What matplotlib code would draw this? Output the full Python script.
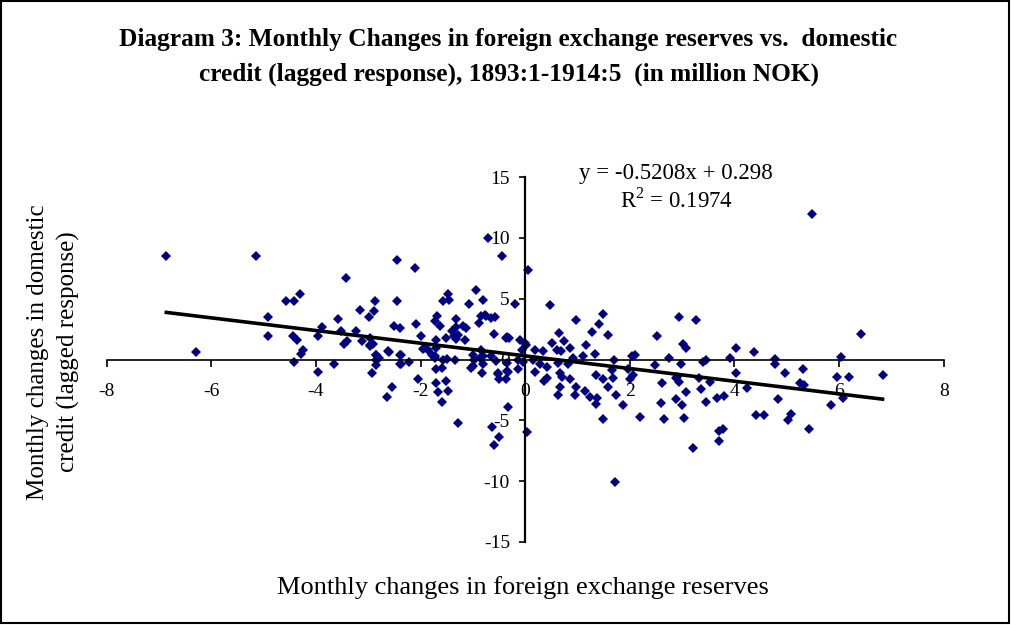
import numpy as np
import matplotlib
matplotlib.use("Agg")
import matplotlib.pyplot as plt
from matplotlib.patches import Rectangle

# monthly changes in foreign exchange reserves (x) vs. lagged change in domestic credit (y)
reserves = [
    -6.86, -5.14, -6.29, -4.92, -4.92, -4.58, -4.41, -4.31, -4.43, -4.36, -4.24, -4.28, -4.42,
    -3.96, -3.96, -3.66, -3.88, -3.57, -3.53, -3.42, -3.47, -3.41, -3.23, -3.16, -3.12, -2.99,
    -2.88, -2.89, -2.97, -2.90, -2.85, -2.80, -2.86, -2.92, -2.61, -2.46, -2.46, -2.51, -2.39,
    -2.40, -2.39, -2.23, -2.11, -2.08, -2.00, -1.94, -1.86, -1.73, -1.68, -1.63, -1.71, -1.70,
    -1.73, -1.58, -1.48, -1.46, -1.51, -1.58, -1.70, -1.60, -1.33, -1.33, -1.37, -1.35, -1.18,
    -1.14, -1.08, -0.95, -0.89, -0.84, -0.77, -0.81, -0.72, -0.58, -0.60, -0.44, -0.34, -0.20,
    -0.10, 0.05, -1.00, -0.81, -0.65, -1.00, -0.82, -0.52, -0.33, -0.14, -0.04, -0.07, 0.00,
    -2.05, -2.54, -2.65, -1.70, -1.51, -1.67, -1.48, -1.59, -1.28, -0.63, -0.51, -0.60, -0.33,
    0.04, -0.50, -0.37, -0.35, -0.52, -1.03, -1.50, -1.39, -1.28, -1.33, -1.16, -0.74, -0.65,
    -0.84, -0.97, -0.87, -0.81, -0.55, -0.37, -0.31, -0.35, -0.14, -2.97, -2.97, -2.85, -2.85,
    -2.62, -2.37, -2.37, -1.78, -1.95, -1.72,
    0.48, 0.98, 1.48, 1.41, 1.28, 1.58, 0.64, 0.51, 0.74, 0.86, 0.61, 0.69, 0.18, 0.34, 0.02,
    1.17, 1.10, 1.34, 0.91, 1.70, 2.05, 2.09, 2.51, 2.75, 2.94, 0.15, 0.28, 0.41, 0.18, 0.63,
    0.82, 0.66, 0.70, 0.41, 0.35, 0.86, 0.66, 0.63, 0.98, 0.95, 1.14, 1.23, 1.37, 1.36, 1.35,
    1.49, 1.58, 1.68, 1.65, 1.74, 1.86, 1.97, 2.06, 2.00, 1.48, 2.20, 2.48, 2.62, 2.59, 2.65,
    2.88, 2.89, 3.27, 3.02, 3.08, 2.97, 3.39, 3.46, 3.91, 4.02, 4.02, 5.49, 6.41, 4.37, 4.77,
    4.77, 6.03, 4.96, 5.30, 5.95, 6.19, 6.83, 4.23, 5.26, 5.33, 4.83, 6.08, 5.84, 4.42, 4.57,
    5.08, 5.03, 5.42, 1.71, 3.20, 3.70, 3.71, 3.78, 3.04, 3.00, 3.08, 3.36, 3.46, 3.66, 3.80,
    3.54, 3.32, 2.90, 2.94,
]
credit = [
    8.52, 8.52, 0.63, 3.47, 1.97, 4.78, 4.78, 5.41, 1.97, 1.64, 0.82, 0.47, -0.19,
    1.97, -1.00, -0.33, 2.65, 3.33, 2.32, 6.70, 1.31, 1.50, 2.32, 4.10, 1.50, 3.47,
    4.78, 4.02, 1.09, 1.31, 0.33, 0.14, -0.47, -1.09, 0.63, 8.20, 4.78, 2.79, 2.60,
    0.35, -0.41, -0.19, 7.51, 2.95, 1.91, 0.96, 0.82, 3.14, 3.61, 2.79, 1.64, 0.96,
    0.27, 4.78, 5.41, 4.92, 1.78, 0.00, -0.82, -0.68, 3.36, 2.65, 1.91, 0.00, 2.79,
    2.60, 4.59, 5.74, 3.00, 3.55, 3.69, 4.92, 9.97, 3.50, 2.13, 8.52, 1.86, 4.56,
    1.64, 7.38, 0.41, 0.27, 0.27, -0.55, -1.09, -1.09, -1.00, -0.82, -0.19, 0.82, 1.37,
    -1.64, -2.27, -3.09, -1.97, -1.78, -2.65, -2.60, -3.47, -5.25, -5.52, -6.37, -7.02, -3.91,
    -5.96, -1.64, -1.64, -0.96, -1.23, -0.68, 0.08, 2.32, 2.05, 1.69, 1.64, 3.55, 3.42,
    0.82, 0.00, 0.14, -0.41, -0.14, 1.78, 1.78, -0.27, 0.00, 1.78, 1.23, 0.41, 0.00,
    0.68, 0.41, -0.33, 0.41, 0.90, 0.14,
    4.45, 3.28, 3.77, 2.93, 2.27, 2.05, 2.19, 1.37, 1.50, 0.96, 0.82, 0.68, 0.82, 0.68, 1.23,
    1.17, 0.27, 0.49, 0.14, 0.00, 0.27, 0.41, 1.97, 0.14, 3.50, 0.00, -0.41, -0.60, -1.00, -0.27,
    -0.41, -1.09, -1.42, -1.50, -1.78, -1.64, -2.24, -2.95, -2.24, -2.95, -2.60, -3.06, -3.14, -3.69, -1.31,
    -1.64, -2.24, -1.56, -0.87, -2.95, -3.77, -0.76, -1.31, -1.64, -4.92, -4.70, -0.49, -1.97, -3.61, -4.92,
    -1.50, -3.22, 3.28, 1.31, 0.96, -0.33, -0.19, 0.00, 0.14, 0.96, -1.15, 11.97, 2.13, 0.63, 0.05,
    -0.41, 0.19, -1.15, -0.82, -1.42, -1.42, -1.28, -2.32, -1.97, -2.13, -3.28, -3.14, -3.77, -4.59, -4.59,
    -4.51, -4.97, -5.74, -10.03, -7.24, -6.69, -5.87, -5.74, -4.78, -3.74, -2.65, -2.46, -3.47, -3.14, -3.00,
    -1.86, -1.50, -1.42, -1.83,
]

slope = -0.5208
intercept = 0.298
x_ticks = [-8, -6, -4, -2, 0, 2, 4, 6, 8]
y_ticks = [-15, -10, -5, 0, 5, 10, 15]

plt.rcParams['font.family'] = ['Liberation Serif', 'DejaVu Serif']
plt.rcParams['mathtext.fontset'] = 'custom'
plt.rcParams['mathtext.rm'] = 'Liberation Serif'

fig = plt.figure(figsize=(10.11, 6.25), dpi=100)
ax = fig.add_axes([0.1055, 0.1328, 0.828, 0.584])

x = np.array(reserves)
y = np.array(credit)
ax.plot(x, y, linestyle='none', marker='D', markersize=5.4,
        color='#000080', markeredgewidth=0)

# linear trendline over the data range
xl = np.array([x.min(), x.max()])
ax.plot(xl, slope * xl + intercept, color='black', linewidth=2.6)

ax.set_xlim(-8, 8)
ax.set_ylim(-15, 15)
ax.set_xticks(x_ticks)
ax.set_yticks(y_ticks)
ax.set_xticklabels([str(t) for t in x_ticks])
ax.set_yticklabels([str(t) for t in y_ticks])

for side in ['top', 'right']:
    ax.spines[side].set_visible(False)
ax.spines['left'].set_position(('data', 0))
ax.spines['bottom'].set_position(('data', 0))
ax.spines['left'].set_linewidth(1.6)
ax.spines['bottom'].set_linewidth(1.2)
ax.tick_params(axis='x', direction='out', length=5, width=1.2, pad=12, labelsize=14)
ax.tick_params(axis='y', direction='out', length=4, width=1.2, pad=7, labelsize=14)
ax.patch.set_visible(False)

fig.text(0.669, 0.723, 'y = -0.5208x + 0.298', ha='center', va='center', fontsize=16.5)
fig.text(0.669, 0.68, r'R$^{\mathrm{2}}$ = 0.1974', ha='center', va='center', fontsize=16.5)

fig.text(0.503, 0.909,
         'Diagram 3: Monthly Changes in foreign exchange reserves vs.  domestic\n'
         'credit (lagged response), 1893:1-1914:5  (in million NOK)',
         ha='center', va='center', fontsize=18.3, fontweight='bold', linespacing=1.62)

fig.text(0.517, 0.06, 'Monthly changes in foreign exchange reserves',
         ha='center', va='center', fontsize=19)
fig.text(0.0525, 0.437, 'Monthly changes in domestic\ncredit (lagged response)',
         ha='center', va='center', rotation=90, fontsize=18, linespacing=1.45)

fig.patches.append(Rectangle((0.001, 0.003), 0.997, 0.995, transform=fig.transFigure,
                             fill=False, edgecolor='black', linewidth=1.5))

fig.savefig('out.png', dpi=100)
